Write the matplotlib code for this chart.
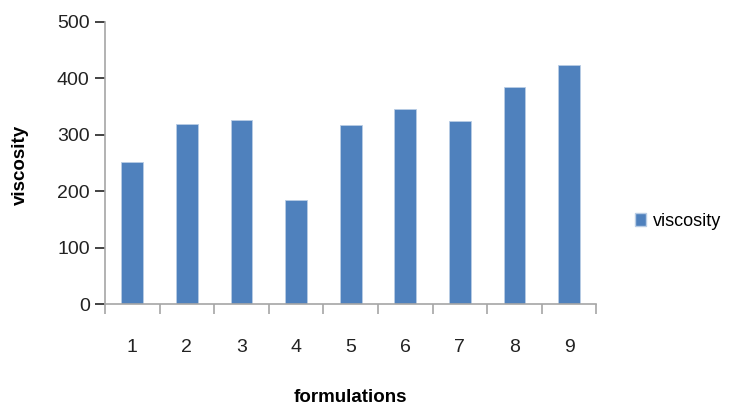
import numpy as np
import matplotlib.pyplot as plt
from matplotlib.patches import Patch

plt.rcParams['font.family'] = ['Liberation Sans', 'DejaVu Sans']

formulations = ['1', '2', '3', '4', '5', '6', '7', '8', '9']
viscosity = [252, 320, 326, 184, 317, 345, 324, 385, 424]

axis_grey = '#a6a6a6'
bar_blue = '#4f81bd'

W, H = 729, 407
fig = plt.figure(figsize=(W / 100, H / 100), dpi=100)
ax = fig.add_axes([0.144, 0.253, 0.674, 0.693])

x = np.arange(len(formulations))
ax.bar(x, viscosity, width=0.4, color=bar_blue, edgecolor='#b9cde5', linewidth=0.6)

ax.set_xlim(-0.5, len(formulations) - 0.5)
ax.set_ylim(0, 500)

for side in ['top', 'right']:
    ax.spines[side].set_visible(False)
for side in ['left', 'bottom']:
    ax.spines[side].set_color(axis_grey)
    ax.spines[side].set_linewidth(1.2)

ax.set_yticks([0, 100, 200, 300, 400, 500])
ax.tick_params(axis='y', length=7, width=1.2, labelsize=14, pad=4, colors='#222222')
for t in ax.get_yticklines():
    t.set_color(axis_grey)

# category labels centred, boundary ticks between categories
ax.set_xticks(x)
ax.set_xticklabels(formulations)
ax.tick_params(axis='x', which='major', length=0, labelsize=14, pad=25, labelcolor='#222222')
ax.set_xticks(np.arange(len(formulations) + 1) - 0.5, minor=True)
ax.tick_params(axis='x', which='minor', length=7, width=1.2, color=axis_grey)

fig.text(350 / W, 1 - 398 / H, 'formulations', fontsize=13.5, fontweight='bold',
         ha='center', va='center')
fig.text(20 / W, 1 - 165 / H, 'viscosity', fontsize=13.5, fontweight='bold',
         ha='center', va='center', rotation=90)

handle = Patch(facecolor=bar_blue, edgecolor='#b9cde5', label='viscosity')
fig.legend(handles=[handle], loc='center left', bbox_to_anchor=(628 / W, 1 - 221 / H),
           frameon=False, fontsize=13, handlelength=0.6, handleheight=0.7,
           handletextpad=0.4, borderaxespad=0)

fig.savefig('out.png', dpi=100)
